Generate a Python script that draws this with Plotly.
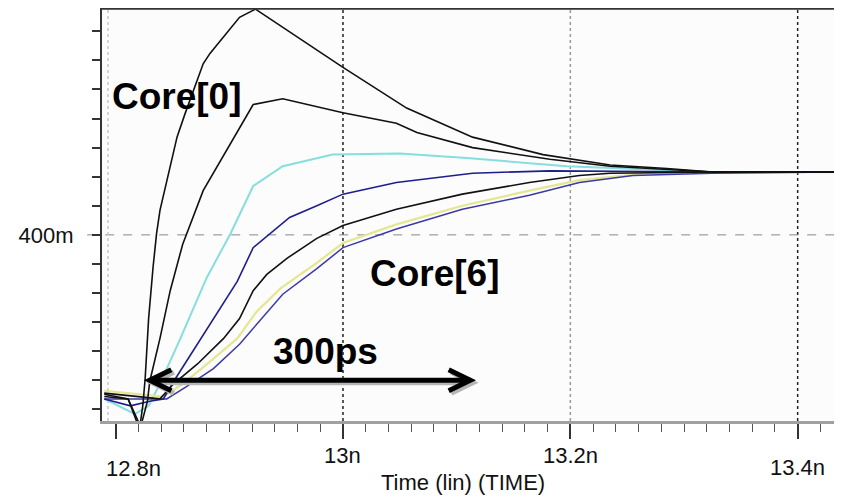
import plotly.graph_objects as go

# ---- data (time in ns, voltage in V) ----
c0_t = [12.790, 12.811, 12.821, 12.824, 12.826, 12.829, 12.833, 12.836, 12.839, 12.854, 12.861, 12.877, 12.883, 12.909, 12.923, 13.000, 13.056, 13.114, 13.176, 13.235, 13.285, 13.325, 13.439]
c0_v = [0.263, 0.259, 0.233, 0.254, 0.277, 0.328, 0.373, 0.401, 0.421, 0.484, 0.504, 0.547, 0.556, 0.587, 0.594, 0.544, 0.509, 0.484, 0.469, 0.460, 0.457, 0.454, 0.454]

c1_t = [12.790, 12.811, 12.822, 12.828, 12.830, 12.839, 12.848, 12.859, 12.877, 12.901, 12.921, 12.947, 13.000, 13.047, 13.065, 13.114, 13.182, 13.235, 13.325, 13.439]
c1_v = [0.261, 0.259, 0.235, 0.257, 0.274, 0.311, 0.352, 0.392, 0.438, 0.478, 0.512, 0.517, 0.505, 0.496, 0.488, 0.475, 0.465, 0.459, 0.454, 0.454]

c2_t = [12.790, 12.817, 12.829, 12.839, 12.857, 12.880, 12.901, 12.921, 12.947, 12.991, 13.050, 13.109, 13.197, 13.255, 13.325, 13.439]
c2_v = [0.259, 0.246, 0.253, 0.272, 0.311, 0.363, 0.401, 0.442, 0.459, 0.469, 0.470, 0.466, 0.459, 0.457, 0.454, 0.454]

c3_t = [12.790, 12.813, 12.830, 12.842, 12.851, 12.872, 12.889, 12.907, 12.921, 12.936, 12.953, 12.977, 13.000, 13.047, 13.114, 13.182, 13.325, 13.439]
c3_v = [0.259, 0.253, 0.257, 0.259, 0.274, 0.306, 0.332, 0.360, 0.389, 0.401, 0.415, 0.425, 0.435, 0.445, 0.453, 0.455, 0.454, 0.454]

c4_t = [12.790, 12.822, 12.839, 12.851, 12.872, 12.895, 12.909, 12.921, 12.933, 12.951, 12.977, 13.000, 13.047, 13.105, 13.164, 13.208, 13.235, 13.325, 13.439]
c4_v = [0.264, 0.261, 0.259, 0.272, 0.289, 0.311, 0.328, 0.352, 0.366, 0.380, 0.397, 0.408, 0.422, 0.435, 0.445, 0.451, 0.453, 0.454, 0.454]

c5_t = [12.790, 12.822, 12.842, 12.859, 12.883, 12.907, 12.924, 12.945, 12.977, 13.000, 13.047, 13.105, 13.164, 13.208, 13.270, 13.325, 13.439]
c5_v = [0.266, 0.263, 0.261, 0.272, 0.291, 0.311, 0.334, 0.354, 0.376, 0.393, 0.409, 0.425, 0.438, 0.447, 0.453, 0.454, 0.454]

c6_t = [12.790, 12.822, 12.845, 12.863, 12.886, 12.909, 12.924, 12.947, 12.977, 13.000, 13.047, 13.105, 13.164, 13.208, 13.255, 13.325, 13.439]
c6_v = [0.259, 0.259, 0.259, 0.270, 0.285, 0.306, 0.323, 0.349, 0.371, 0.389, 0.405, 0.422, 0.434, 0.445, 0.451, 0.453, 0.454]

x_tick_vals = [12.8, 13.0, 13.2, 13.4]
x_tick_text = ["12.8n", "13n", "13.2n", "13.4n"]
y_tick_vals = [0.25, 0.275, 0.3, 0.325, 0.35, 0.375, 0.4, 0.425, 0.45, 0.475, 0.5, 0.525, 0.55, 0.575]
y_tick_text = ["", "", "", "", "", "", "400m", "", "", "", "", "", "", ""]

grid_x = [13.0, 13.2, 13.4]
grid_x_colors = ["#222222", "#9a9a9a", "#222222"]
grid_y = [0.4]

x_range = [12.788, 13.439]
y_range = [0.240, 0.595]

arrow_x = [12.830, 13.112]
arrow_y = 0.275

FONT = "Liberation Sans, Arial, sans-serif"

fig = go.Figure()

series = [
    (c2_t, c2_v, "#86dede", 2.0),   # cyan
    (c5_t, c5_v, "#e4e690", 2.2),   # yellow
    (c6_t, c6_v, "#3a3aa8", 1.5),   # lower navy
    (c3_t, c3_v, "#1e1e8c", 1.6),   # upper navy
    (c4_t, c4_v, "#111111", 1.6),   # lower black
    (c1_t, c1_v, "#111111", 1.6),   # black 2
    (c0_t, c0_v, "#111111", 1.6),   # Core[0]
]
for t, v, col, w in series:
    fig.add_trace(go.Scatter(x=t, y=v, mode="lines",
                             line=dict(color=col, width=w),
                             showlegend=False, hoverinfo="skip"))

shapes = []
for gx, gc in zip(grid_x, grid_x_colors):
    shapes.append(dict(type="line", xref="x", yref="paper", x0=gx, x1=gx, y0=0, y1=1,
                       line=dict(color=gc, width=1.5, dash="dot"), layer="below"))
for gy in grid_y:
    shapes.append(dict(type="line", xref="paper", yref="y", x0=-0.02, x1=1, y0=gy, y1=gy,
                       line=dict(color="#888888", width=1, dash="dash"), layer="below"))
shapes.append(dict(type="line", xref="paper", yref="paper", x0=0.008, x1=0.008, y0=0, y1=1,
                   line=dict(color="#c8c8c8", width=1.5, dash="dot"), layer="below"))
shapes.append(dict(type="line", xref="paper", yref="paper", x0=0, x1=1, y0=0.998, y1=0.998,
                   line=dict(color="#333333", width=2)))

# double-headed arrow with shadow
dx, dy = 0.0022, -0.0022
hx, hy = 0.019, 0.0090
for off_x, off_y, col in [(dx, dy, "#b5b5b5"), (0, 0, "#000000")]:
    x0, x1 = arrow_x[0] + off_x, arrow_x[1] + off_x
    y0 = arrow_y + off_y
    shapes.append(dict(type="line", xref="x", yref="y", x0=x0, x1=x1, y0=y0, y1=y0,
                       line=dict(color=col, width=5)))
    shapes.append(dict(type="path", xref="x", yref="y",
                       path=f"M {x0+hx},{y0+hy} L {x0},{y0} L {x0+hx},{y0-hy}",
                       line=dict(color=col, width=5)))
    shapes.append(dict(type="path", xref="x", yref="y",
                       path=f"M {x1-hx},{y0+hy} L {x1},{y0} L {x1-hx},{y0-hy}",
                       line=dict(color=col, width=5)))

shapes.append(dict(type="line", xref="paper", yref="paper", x0=0.992, x1=1.0, y0=-0.172, y1=-0.172,
                   line=dict(color="#000000", width=3)))

annotations = []
tick_shift = {12.8: (-47, "left"), 13.0: (-34, "center"), 13.2: (-34, "center"), 13.4: (-46, "center")}
for tv, tt in zip(x_tick_vals, x_tick_text):
    ys, anc = tick_shift[tv]
    xv = x_range[0] + 0.002 if tv == 12.8 else tv
    annotations.append(dict(x=xv, y=0, xref="x", yref="paper", text=tt, showarrow=False,
                            xanchor=anc, yanchor="middle", yshift=ys,
                            font=dict(family=FONT, size=22, color="#111111")))
annotations.append(dict(x=13.106, y=0, xref="x", yref="paper", text="Time (lin) (TIME)",
                        showarrow=False, xanchor="center", yanchor="middle", yshift=-61,
                        font=dict(family=FONT, size=22, color="#111111")))
annotations.append(dict(x=12.795, y=0.519, xref="x", yref="y", text="<b>Core[0]</b>",
                        showarrow=False, xanchor="left", yanchor="middle",
                        font=dict(family=FONT, size=37, color="#000000")))
annotations.append(dict(x=13.022, y=0.367, xref="x", yref="y", text="<b>Core[6]</b>",
                        showarrow=False, xanchor="left", yanchor="middle",
                        font=dict(family=FONT, size=37, color="#000000")))
annotations.append(dict(x=12.985, y=0.300, xref="x", yref="y", text="<b>300ps</b>",
                        showarrow=False, xanchor="center", yanchor="middle",
                        font=dict(family=FONT, size=37, color="#000000")))

# The page body has an 8px default margin, so the figure is sized/offset to compensate.
fig.update_layout(
    width=834, height=491,
    margin=dict(l=94, r=0, t=0, b=78),
    paper_bgcolor="#ffffff", plot_bgcolor="#fcfcfc",
    shapes=shapes, annotations=annotations,
    xaxis=dict(range=x_range, showgrid=False, zeroline=False,
               tickvals=x_tick_vals, ticktext=x_tick_text, showticklabels=False,
               ticks="outside", ticklen=15, tickwidth=1.5, tickcolor="#333333",
               showline=True, linecolor="#a0a0a0", linewidth=3,
               minor=dict(dtick=0.02, tick0=12.8, ticks="outside", ticklen=8,
                          tickwidth=1.2, tickcolor="#555555", showgrid=False)),
    yaxis=dict(range=y_range, showgrid=False, zeroline=False,
               tickvals=y_tick_vals, ticktext=y_tick_text,
               ticks="outside", ticklen=8, tickwidth=1.5, tickcolor="#333333",
               ticklabelstandoff=14,
               tickfont=dict(family=FONT, size=22, color="#111111"),
               showline=True, linecolor="#333333", linewidth=2),
)

fig.write_html("out.html")
